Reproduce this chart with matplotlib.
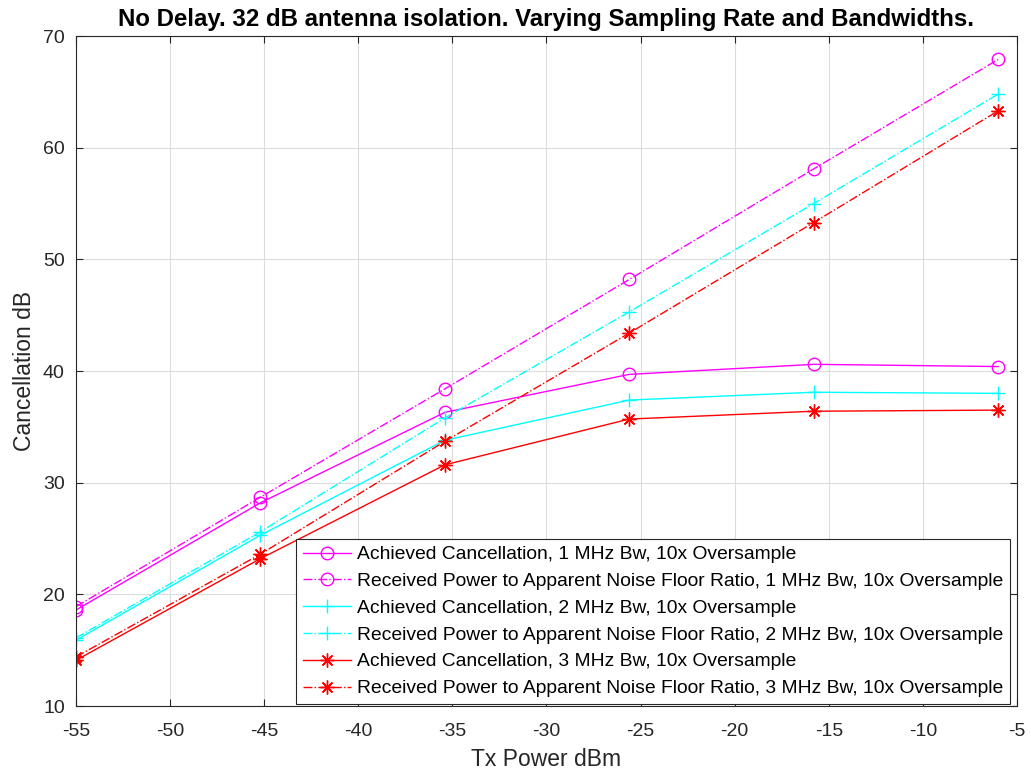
import matplotlib
matplotlib.use("Agg")
import matplotlib.pyplot as plt

plt.rcParams['font.family'] = ['Liberation Sans', 'DejaVu Sans']
plt.rcParams['axes.unicode_minus'] = False

tx_power = [-55, -45.2, -35.4, -25.6, -15.8, -6.0]

ach_1mhz = [18.6, 28.2, 36.3, 39.7, 40.6, 40.4]
rx_1mhz = [18.9, 28.7, 38.4, 48.2, 58.1, 67.9]
ach_2mhz = [15.9, 25.3, 33.8, 37.4, 38.1, 38.0]
rx_2mhz = [16.1, 25.6, 35.8, 45.3, 55.0, 64.8]
ach_3mhz = [14.1, 23.2, 31.6, 35.7, 36.4, 36.5]
rx_3mhz = [14.4, 23.6, 33.7, 43.4, 53.3, 63.3]

labels = [
    "Achieved Cancellation, 1 MHz Bw, 10x Oversample",
    "Received Power to Apparent Noise Floor Ratio, 1 MHz Bw, 10x Oversample",
    "Achieved Cancellation, 2 MHz Bw, 10x Oversample",
    "Received Power to Apparent Noise Floor Ratio, 2 MHz Bw, 10x Oversample",
    "Achieved Cancellation, 3 MHz Bw, 10x Oversample",
    "Received Power to Apparent Noise Floor Ratio, 3 MHz Bw, 10x Oversample",
]
xticks = [-55, -50, -45, -40, -35, -30, -25, -20, -15, -10, -5]
yticks = [10, 20, 30, 40, 50, 60, 70]

fig = plt.figure(figsize=(10.31, 7.78), dpi=100)
ax = fig.add_axes([0.0737, 0.0925, 0.9127, 0.8612])

ast = (8, 2, 0)
series = [
    (ach_1mhz, '-', 'o', (1, 0, 1)),
    (rx_1mhz, '-.', 'o', (1, 0, 1)),
    (ach_2mhz, '-', '+', (0, 1, 1)),
    (rx_2mhz, '-.', '+', (0, 1, 1)),
    (ach_3mhz, '-', ast, (1, 0, 0)),
    (rx_3mhz, '-.', ast, (1, 0, 0)),
]
for (vals, ls, mk, col), lab in zip(series, labels):
    ms = 9 if mk == 'o' else 10
    ax.plot(tx_power, vals, linestyle=ls, marker=mk, color=col, lw=1.0,
            markersize=ms, markerfacecolor='none', markeredgecolor=col,
            markeredgewidth=1.0, label=lab)

ax.set_xlim(-55, -5)
ax.set_ylim(10, 70)
ax.set_xticks(xticks)
ax.set_yticks(yticks)
ax.tick_params(direction='in', labelsize=14, colors='#262626', length=5, top=True, right=True)
ax.tick_params(axis='x', pad=12)
ax.tick_params(axis='y', pad=8)
ax.grid(True, color='#dcdcdc', lw=0.8)
ax.set_axisbelow(True)
for s in ax.spines.values():
    s.set_color('#262626')
    s.set_linewidth(0.8)

ax.set_xlabel("Tx Power dBm", fontsize=16.5, color='#262626', labelpad=6)
ax.set_ylabel("Cancellation dB", fontsize=16.5, color='#262626', labelpad=5)
ax.set_title("No Delay. 32 dB antenna isolation. Varying Sampling Rate and Bandwidths.",
             fontsize=17.3, fontweight='bold', pad=7)

leg = ax.legend(loc='lower right', bbox_to_anchor=(0.9926, 0.003), fontsize=13.9,
                frameon=True, fancybox=False, borderaxespad=0.0, handlelength=2.5,
                labelspacing=0.48, handletextpad=0.3, borderpad=0.35)
leg.get_frame().set_edgecolor('#262626')
leg.get_frame().set_linewidth(0.8)
leg.get_frame().set_alpha(1.0)

fig.savefig("out.png", dpi=100)
